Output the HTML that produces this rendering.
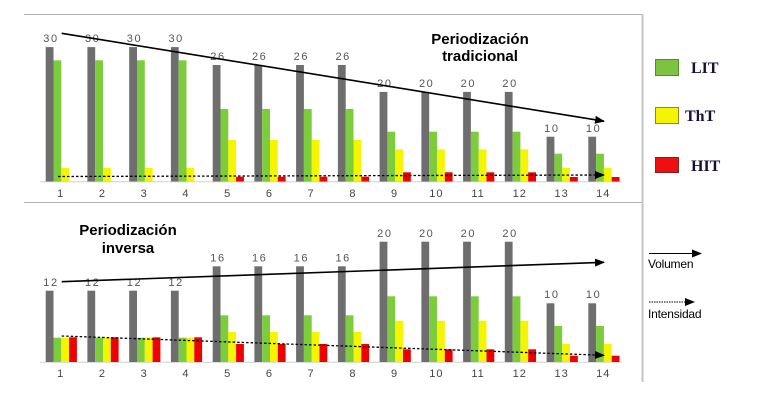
<!DOCTYPE html>
<html><head><meta charset="utf-8"><style>
html,body{margin:0;padding:0;background:#fff;}
svg{display:block;}
.v{font-family:"Liberation Sans",sans-serif;font-size:11px;fill:#555;text-anchor:middle;letter-spacing:1.6px;}
.c{font-family:"Liberation Sans",sans-serif;font-size:11px;fill:#444;text-anchor:middle;letter-spacing:1px;}
.t{font-family:"Liberation Sans",sans-serif;font-size:15px;font-weight:bold;fill:#000;text-anchor:middle;}
.l{font-family:"Liberation Serif",serif;font-size:16px;font-weight:bold;fill:#1a1035;}
.s{font-family:"Liberation Sans",sans-serif;font-size:12px;fill:#000;letter-spacing:-0.2px;}
</style></head><body>
<svg width="767" height="406" viewBox="0 0 767 406" xmlns="http://www.w3.org/2000/svg">
<defs>
<marker id="ah" markerWidth="10" markerHeight="8" refX="9" refY="4" orient="auto" markerUnits="userSpaceOnUse">
<path d="M0,0 L10,4 L0,8 Z" fill="#000"/>
</marker>
</defs>
<line x1="24" y1="14.5" x2="642" y2="14.5" stroke="#b0b0b0" stroke-width="1"/>
<line x1="24" y1="202.5" x2="642" y2="202.5" stroke="#b0b0b0" stroke-width="1"/>
<line x1="642.5" y1="14" x2="642.5" y2="382" stroke="#c4c4c4" stroke-width="2"/>

<!-- TOP CHART -->
<line x1="40" y1="181.8" x2="622" y2="181.8" stroke="#d0d0d0" stroke-width="1"/>
<g fill="#6e6e6e">
<rect x="45.7" y="47.1" width="7.8" height="134.4"/>
<rect x="87.4" y="47.1" width="7.8" height="134.4"/>
<rect x="129.2" y="47.1" width="7.8" height="134.4"/>
<rect x="170.9" y="47.1" width="7.8" height="134.4"/>
<rect x="212.7" y="65" width="7.8" height="116.5"/>
<rect x="254.4" y="65" width="7.8" height="116.5"/>
<rect x="296.1" y="65" width="7.8" height="116.5"/>
<rect x="337.9" y="65" width="7.8" height="116.5"/>
<rect x="379.6" y="91.9" width="7.8" height="89.6"/>
<rect x="421.4" y="91.9" width="7.8" height="89.6"/>
<rect x="463.1" y="91.9" width="7.8" height="89.6"/>
<rect x="504.8" y="91.9" width="7.8" height="89.6"/>
<rect x="546.6" y="136.7" width="7.8" height="44.8"/>
<rect x="588.3" y="136.7" width="7.8" height="44.8"/>
</g>
<g fill="#7ccc3c">
<rect x="53.5" y="60.3" width="7.8" height="121.2"/>
<rect x="95.2" y="60.3" width="7.8" height="121.2"/>
<rect x="137" y="60.3" width="7.8" height="121.2"/>
<rect x="178.7" y="60.3" width="7.8" height="121.2"/>
<rect x="220.5" y="109" width="7.8" height="72.5"/>
<rect x="262.2" y="109" width="7.8" height="72.5"/>
<rect x="303.9" y="109" width="7.8" height="72.5"/>
<rect x="345.7" y="109" width="7.8" height="72.5"/>
<rect x="387.4" y="131.7" width="7.8" height="49.8"/>
<rect x="429.2" y="131.7" width="7.8" height="49.8"/>
<rect x="470.9" y="131.7" width="7.8" height="49.8"/>
<rect x="512.6" y="131.7" width="7.8" height="49.8"/>
<rect x="554.4" y="153.7" width="7.8" height="27.8"/>
<rect x="596.1" y="153.7" width="7.8" height="27.8"/>
</g>
<g fill="#f5f500">
<rect x="61.3" y="168" width="7.8" height="13.5"/>
<rect x="103" y="168" width="7.8" height="13.5"/>
<rect x="144.8" y="168" width="7.8" height="13.5"/>
<rect x="186.5" y="168" width="7.8" height="13.5"/>
<rect x="228.3" y="140" width="7.8" height="41.5"/>
<rect x="270" y="140" width="7.8" height="41.5"/>
<rect x="311.7" y="140" width="7.8" height="41.5"/>
<rect x="353.5" y="140" width="7.8" height="41.5"/>
<rect x="395.2" y="149.3" width="7.8" height="32.2"/>
<rect x="437" y="149.3" width="7.8" height="32.2"/>
<rect x="478.7" y="149.3" width="7.8" height="32.2"/>
<rect x="520.4" y="149.3" width="7.8" height="32.2"/>
<rect x="562.2" y="168" width="7.8" height="13.5"/>
<rect x="603.9" y="168" width="7.8" height="13.5"/>
</g>
<g fill="#ee0000">
<rect x="236.1" y="176.7" width="7.8" height="4.8"/>
<rect x="277.8" y="176.7" width="7.8" height="4.8"/>
<rect x="319.5" y="176.7" width="7.8" height="4.8"/>
<rect x="361.3" y="176.7" width="7.8" height="4.8"/>
<rect x="403" y="172.3" width="7.8" height="9.2"/>
<rect x="444.8" y="172.3" width="7.8" height="9.2"/>
<rect x="486.5" y="172.3" width="7.8" height="9.2"/>
<rect x="528.2" y="172.3" width="7.8" height="9.2"/>
<rect x="570" y="177" width="7.8" height="4.5"/>
<rect x="611.7" y="177" width="7.8" height="4.5"/>
</g>
<g class="v">
<text x="51" y="42">30</text><text x="92.7" y="42">30</text><text x="134.5" y="42">30</text><text x="176.2" y="42">30</text>
<text x="218" y="60">26</text><text x="259.7" y="60">26</text><text x="301.4" y="60">26</text><text x="343.2" y="60">26</text>
<text x="384.9" y="87">20</text><text x="426.7" y="87">20</text><text x="468.4" y="87">20</text><text x="510.1" y="87">20</text>
<text x="551.9" y="132">10</text><text x="593.6" y="132">10</text>
</g>
<g class="c">
<text x="60.7" y="197">1</text><text x="102.4" y="197">2</text><text x="144.2" y="197">3</text><text x="185.9" y="197">4</text>
<text x="227.7" y="197">5</text><text x="269.4" y="197">6</text><text x="311.1" y="197">7</text><text x="352.9" y="197">8</text>
<text x="394.6" y="197">9</text><text x="436.4" y="197">10</text><text x="478.1" y="197">11</text><text x="519.8" y="197">12</text>
<text x="561.6" y="197">13</text><text x="603.3" y="197">14</text>
</g>
<line x1="61.7" y1="33.3" x2="604" y2="121.2" stroke="#000" stroke-width="1.6" marker-end="url(#ah)"/>
<line x1="58" y1="176.5" x2="604" y2="175" stroke="#000" stroke-width="1.3" stroke-dasharray="2.5,2" marker-end="url(#ah)"/>
<text class="t" x="480" y="44">Periodización</text>
<text class="t" x="480" y="61">tradicional</text>

<!-- BOTTOM CHART -->
<line x1="40" y1="362.3" x2="622" y2="362.3" stroke="#d0d0d0" stroke-width="1"/>
<g fill="#6e6e6e">
<rect x="45.7" y="290.7" width="7.8" height="71.3"/>
<rect x="87.4" y="290.7" width="7.8" height="71.3"/>
<rect x="129.2" y="290.7" width="7.8" height="71.3"/>
<rect x="170.9" y="290.7" width="7.8" height="71.3"/>
<rect x="212.7" y="266.3" width="7.8" height="95.7"/>
<rect x="254.4" y="266.3" width="7.8" height="95.7"/>
<rect x="296.1" y="266.3" width="7.8" height="95.7"/>
<rect x="337.9" y="266.3" width="7.8" height="95.7"/>
<rect x="379.6" y="241.7" width="7.8" height="120.3"/>
<rect x="421.4" y="241.7" width="7.8" height="120.3"/>
<rect x="463.1" y="241.7" width="7.8" height="120.3"/>
<rect x="504.8" y="241.7" width="7.8" height="120.3"/>
<rect x="546.6" y="303.3" width="7.8" height="58.7"/>
<rect x="588.3" y="303.3" width="7.8" height="58.7"/>
</g>
<g fill="#7ccc3c">
<rect x="53.5" y="337.7" width="7.8" height="24.3"/>
<rect x="95.2" y="337.7" width="7.8" height="24.3"/>
<rect x="137" y="337.7" width="7.8" height="24.3"/>
<rect x="178.7" y="337.7" width="7.8" height="24.3"/>
<rect x="220.5" y="315.3" width="7.8" height="46.7"/>
<rect x="262.2" y="315.3" width="7.8" height="46.7"/>
<rect x="303.9" y="315.3" width="7.8" height="46.7"/>
<rect x="345.7" y="315.3" width="7.8" height="46.7"/>
<rect x="387.4" y="296.3" width="7.8" height="65.7"/>
<rect x="429.2" y="296.3" width="7.8" height="65.7"/>
<rect x="470.9" y="296.3" width="7.8" height="65.7"/>
<rect x="512.6" y="296.3" width="7.8" height="65.7"/>
<rect x="554.4" y="326" width="7.8" height="36"/>
<rect x="596.1" y="326" width="7.8" height="36"/>
</g>
<g fill="#f5f500">
<rect x="61.3" y="337.7" width="7.8" height="24.3"/>
<rect x="103" y="337.7" width="7.8" height="24.3"/>
<rect x="144.8" y="337.7" width="7.8" height="24.3"/>
<rect x="186.5" y="337.7" width="7.8" height="24.3"/>
<rect x="228.3" y="332" width="7.8" height="30"/>
<rect x="270" y="332" width="7.8" height="30"/>
<rect x="311.7" y="332" width="7.8" height="30"/>
<rect x="353.5" y="332" width="7.8" height="30"/>
<rect x="395.2" y="320.7" width="7.8" height="41.3"/>
<rect x="437" y="320.7" width="7.8" height="41.3"/>
<rect x="478.7" y="320.7" width="7.8" height="41.3"/>
<rect x="520.4" y="320.7" width="7.8" height="41.3"/>
<rect x="562.2" y="344" width="7.8" height="18"/>
<rect x="603.9" y="344" width="7.8" height="18"/>
</g>
<g fill="#ee0000">
<rect x="69.1" y="337.3" width="7.8" height="24.7"/>
<rect x="110.8" y="337.3" width="7.8" height="24.7"/>
<rect x="152.6" y="337.3" width="7.8" height="24.7"/>
<rect x="194.3" y="337.3" width="7.8" height="24.7"/>
<rect x="236.1" y="344" width="7.8" height="18"/>
<rect x="277.8" y="344" width="7.8" height="18"/>
<rect x="319.5" y="344" width="7.8" height="18"/>
<rect x="361.3" y="344" width="7.8" height="18"/>
<rect x="403" y="349.3" width="7.8" height="12.7"/>
<rect x="444.8" y="349.3" width="7.8" height="12.7"/>
<rect x="486.5" y="349.3" width="7.8" height="12.7"/>
<rect x="528.2" y="349.3" width="7.8" height="12.7"/>
<rect x="570" y="355.7" width="7.8" height="6.3"/>
<rect x="611.7" y="355.7" width="7.8" height="6.3"/>
</g>
<g class="v">
<text x="51" y="286">12</text><text x="92.7" y="286">12</text><text x="134.5" y="286">12</text><text x="176.2" y="286">12</text>
<text x="218" y="261.5">16</text><text x="259.7" y="261.5">16</text><text x="301.4" y="261.5">16</text><text x="343.2" y="261.5">16</text>
<text x="384.9" y="237">20</text><text x="426.7" y="237">20</text><text x="468.4" y="237">20</text><text x="510.1" y="237">20</text>
<text x="551.9" y="298">10</text><text x="593.6" y="298">10</text>
</g>
<g class="c">
<text x="60.7" y="377">1</text><text x="102.4" y="377">2</text><text x="144.2" y="377">3</text><text x="185.9" y="377">4</text>
<text x="227.7" y="377">5</text><text x="269.4" y="377">6</text><text x="311.1" y="377">7</text><text x="352.9" y="377">8</text>
<text x="394.6" y="377">9</text><text x="436.4" y="377">10</text><text x="478.1" y="377">11</text><text x="519.8" y="377">12</text>
<text x="561.6" y="377">13</text><text x="603.3" y="377">14</text>
</g>
<line x1="61.7" y1="281.7" x2="604" y2="262.3" stroke="#000" stroke-width="1.6" marker-end="url(#ah)"/>
<line x1="61.7" y1="336" x2="604" y2="355.3" stroke="#000" stroke-width="1.3" stroke-dasharray="2.5,2" marker-end="url(#ah)"/>
<text class="t" x="128" y="235">Periodización</text>
<text class="t" x="128" y="253">inversa</text>

<!-- LEGEND -->
<rect x="655.5" y="59.5" width="23" height="16" fill="#7dc242" stroke="#5a8a30" stroke-width="1"/>
<rect x="655.5" y="107.5" width="23" height="16" fill="#f5f500" stroke="#8a8a20" stroke-width="1"/>
<rect x="655.5" y="157.5" width="23" height="15" fill="#ee1010" stroke="#8a2020" stroke-width="1"/>
<text class="l" x="691" y="73">LIT</text>
<text class="l" x="685" y="121">ThT</text>
<text class="l" x="691" y="171">HIT</text>
<line x1="649" y1="253.5" x2="701" y2="253.5" stroke="#000" stroke-width="1" marker-end="url(#ah)"/>
<text class="s" x="648" y="268">Volumen</text>
<line x1="649" y1="302" x2="694" y2="302" stroke="#000" stroke-width="1" stroke-dasharray="1.5,1" marker-end="url(#ah)"/>
<text class="s" x="648" y="318">Intensidad</text>
</svg>
</body></html>
